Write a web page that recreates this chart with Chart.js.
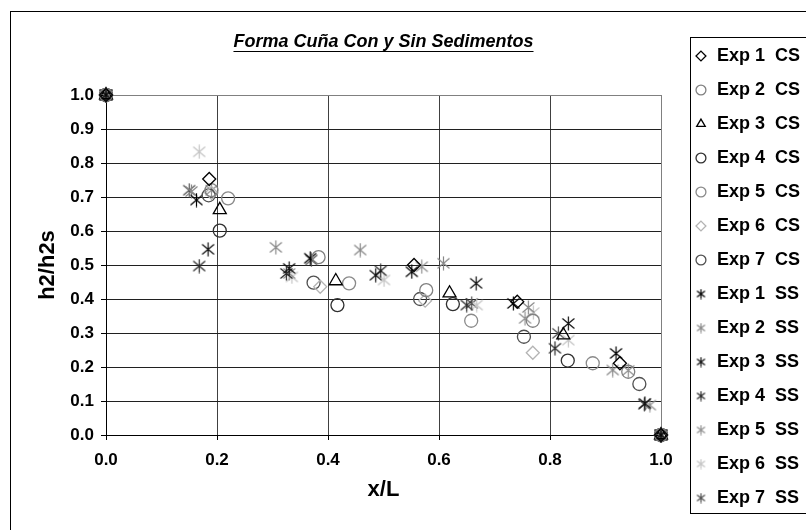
<!DOCTYPE html>
<html>
<head>
<meta charset="utf-8">
<script src="https://cdn.jsdelivr.net/npm/chart.js@4.4.1/dist/chart.umd.min.js"></script>
<style>
  html, body { margin: 0; padding: 0; background: #fff; overflow: hidden; }
  #wrap { width: 806px; height: 530px; overflow: hidden; }
</style>
</head>
<body>
<div id="wrap"><canvas id="chart" width="810" height="530"></canvas></div>
<script>
// series names as in the legend
const seriesLabels = ['Exp 1  CS', 'Exp 2  CS', 'Exp 3  CS', 'Exp 4  CS', 'Exp 5  CS', 'Exp 6  CS', 'Exp 7  CS',
                      'Exp 1  SS', 'Exp 2  SS', 'Exp 3  SS', 'Exp 4  SS', 'Exp 5  SS', 'Exp 6  SS', 'Exp 7  SS'];

// [x/L, h2/h2s]
const exp1CS = [[0, 1], [0.186, 0.753], [0.555, 0.50], [0.741, 0.392], [0.926, 0.211], [1, 0]];
const exp2CS = [[0, 1], [0.19, 0.72], [0.383, 0.523], [0.577, 0.426], [0.769, 0.336], [0.941, 0.186], [1, 0]];
const exp3CS = [[0, 1], [0.205, 0.662], [0.414, 0.453], [0.619, 0.417], [0.824, 0.294], [1, 0]];
const exp4CS = [[0, 1], [0.205, 0.601], [0.417, 0.382], [0.625, 0.385], [0.832, 0.219], [1, 0]];
const exp5CS = [[0, 1], [0.22, 0.696], [0.438, 0.446], [0.658, 0.336], [0.877, 0.211], [1, 0]];
const exp6CS = [[0, 1], [0.19, 0.712], [0.386, 0.436], [0.575, 0.395], [0.769, 0.242], [1, 0]];
const exp7CS = [[0, 1], [0.185, 0.705], [0.374, 0.448], [0.566, 0.40], [0.753, 0.289], [0.961, 0.15], [1, 0]];

const exp1SS = [[0, 1], [0.163, 0.691], [0.368, 0.52], [0.551, 0.48], [0.734, 0.387], [0.919, 0.24], [1, 0]];
const exp2SS = [[0, 1], [0.154, 0.716], [0.306, 0.552], [0.458, 0.544], [0.608, 0.505], [0.761, 0.375], [0.913, 0.191], [1, 0]];
const exp3SS = [[0, 1], [0.184, 0.546], [0.33, 0.49], [0.486, 0.47], [0.667, 0.446], [0.833, 0.328], [0.971, 0.093], [1, 0]];
const exp4SS = [[0, 1], [0.168, 0.497], [0.325, 0.475], [0.495, 0.483], [0.65, 0.382], [0.809, 0.255], [1, 0]];
const exp5SS = [[0, 1], [0.19, 0.72], [0.33, 0.475], [0.569, 0.495], [0.755, 0.343], [0.941, 0.19], [0.98, 0.088], [1, 0]];
const exp6SS = [[0, 1], [0.168, 0.833], [0.335, 0.465], [0.501, 0.456], [0.668, 0.382], [0.77, 0.36], [0.833, 0.279], [1, 0]];
const exp7SS = [[0, 1], [0.15, 0.72], [0.37, 0.515], [0.659, 0.387], [0.815, 0.299], [0.97, 0.09], [1, 0]];

const seriesData = [exp1CS, exp2CS, exp3CS, exp4CS, exp5CS, exp6CS, exp7CS,
                    exp1SS, exp2SS, exp3SS, exp4SS, exp5SS, exp6SS, exp7SS];

const xTickStep = 0.2;
const yTickStep = 0.1;

const colors = ['#000000', '#808080', '#000000', '#303030', '#8a8a8a', '#b4b4b4', '#505050',
                '#000000', '#888888', '#101010', '#282828', '#909090', '#c4c4c4', '#505050'];
const shapes = ['rectRot', 'circle', 'triangle', 'circle', 'circle', 'rectRot', 'circle'];

const FONT = "'Liberation Sans', Arial, sans-serif";

// excel style star marker: X with a vertical stroke
function starMarker(color, size) {
  const c = document.createElement('canvas');
  c.width = size; c.height = size;
  const g = c.getContext('2d');
  const m = 1.5, e = size - 1.5, h = size / 2;
  g.strokeStyle = color;
  g.lineWidth = 1.2;
  g.beginPath();
  g.moveTo(m, m + 1); g.lineTo(e, e - 1);
  g.moveTo(e, m + 1); g.lineTo(m, e - 1);
  g.moveTo(h, 0.5); g.lineTo(h, size - 0.5);
  g.stroke();
  return c;
}

const smallMarkers = {};

const datasets = seriesData.map((pts, i) => {
  const isSS = i >= 7;
  let style = shapes[i];
  if (isSS) {
    style = starMarker(colors[i], 15);
    smallMarkers[i] = starMarker(colors[i], 11);
  }
  return {
    label: seriesLabels[i],
    data: pts.map(p => ({ x: p[0], y: p[1] })),
    pointStyle: style,
    pointRadius: shapes[i] === 'triangle' ? 7.5 : 6.5,
    pointBorderWidth: 1.3,
    borderColor: colors[i],
    backgroundColor: 'rgba(0,0,0,0)',
    pointBackgroundColor: 'rgba(0,0,0,0)',
    showLine: false,
    clip: false
  };
});

const framePlugin = {
  id: 'frame',
  beforeDraw(chart) {
    const ctx = chart.ctx;
    ctx.save();
    ctx.fillStyle = '#fff';
    ctx.fillRect(0, 0, chart.width, chart.height);
    ctx.restore();
  },
  afterDraw(chart) {
    const ctx = chart.ctx;
    ctx.save();
    ctx.strokeStyle = '#000';
    ctx.lineWidth = 1;
    ctx.strokeRect(10.5, 11.5, 1000, 700);
    ctx.strokeRect(690.5, 37.5, 300, 476);
    // underline the title
    const tb = chart.titleBlock;
    ctx.font = 'italic bold 18px ' + FONT;
    const w = ctx.measureText(tb.options.text).width;
    const cx = (tb.left + tb.right) / 2;
    const cy = tb.top + tb.options.padding.top + 18 * 1.2 / 2;
    ctx.beginPath();
    ctx.moveTo(cx - w / 2, Math.round(cy + 9) + 0.5);
    ctx.lineTo(cx + w / 2, Math.round(cy + 9) + 0.5);
    ctx.stroke();
    ctx.restore();
  }
};

new Chart(document.getElementById('chart'), {
  type: 'scatter',
  data: { datasets: datasets },
  options: {
    responsive: false,
    animation: false,
    devicePixelRatio: 1,
    layout: { padding: { top: 31, left: 0, right: 0, bottom: 0 } },
    plugins: {
      tooltip: { enabled: false },
      title: {
        display: true,
        fullSize: false,
        text: 'Forma Cuña Con y Sin Sedimentos',
        color: '#000',
        font: { family: FONT, size: 18, weight: 'bold', style: 'italic' },
        padding: { top: 0, bottom: 42.4 }
      },
      legend: {
        position: 'right',
        align: 'start',
        labels: {
          usePointStyle: true,
          boxWidth: 14,
          boxHeight: 7,
          padding: 16,
          color: '#000',
          font: { family: FONT, size: 18, weight: 'bold' },
          generateLabels(chart) {
            const items = Chart.defaults.plugins.legend.labels.generateLabels(chart);
            items.forEach(it => {
              if (smallMarkers[it.datasetIndex]) it.pointStyle = smallMarkers[it.datasetIndex];
            });
            return items;
          }
        }
      }
    },
    scales: {
      x: {
        type: 'linear',
        min: 0, max: 1,
        afterFit(s) { s.height = 95; },
        ticks: {
          stepSize: xTickStep,
          padding: 10,
          color: '#000',
          font: { family: FONT, size: 17, weight: 'bold' },
          callback: v => v.toFixed(1)
        },
        grid: {
          color: c => c.tick && c.tick.value === 1 ? '#808080' : '#404040',
          tickLength: 5,
          tickColor: '#000'
        },
        border: { color: '#000', width: 1 },
        title: {
          display: true,
          text: 'x/L',
          color: '#000',
          font: { family: FONT, size: 22, weight: 'bold' },
          padding: { top: 0, bottom: 27 }
        }
      },
      y: {
        type: 'linear',
        min: 0, max: 1,
        afterFit(s) { s.width = 106; },
        ticks: {
          stepSize: yTickStep,
          padding: 7,
          color: '#000',
          font: { family: FONT, size: 17, weight: 'bold' },
          callback: v => v.toFixed(1)
        },
        grid: {
          color: c => c.tick && c.tick.value === 1 ? '#808080' : '#202020',
          tickLength: 5,
          tickColor: '#000'
        },
        border: { color: '#000', width: 1 },
        title: {
          display: true,
          text: 'h2/h2s',
          color: '#000',
          font: { family: FONT, size: 22, weight: 'bold' },
          padding: { top: 35, bottom: 0 }
        }
      },
      // empty spacer between plot and legend
      gap: {
        type: 'linear',
        position: 'right',
        min: 0, max: 1,
        afterFit(s) {
          const lw = s.chart.legend ? s.chart.legend.width : 0;
          s.width = Math.max(0, 810 - lw - 661);
        },
        ticks: { display: false },
        grid: { display: false },
        border: { display: false }
      }
    }
  },
  plugins: [framePlugin]
});
</script>
</body>
</html>
